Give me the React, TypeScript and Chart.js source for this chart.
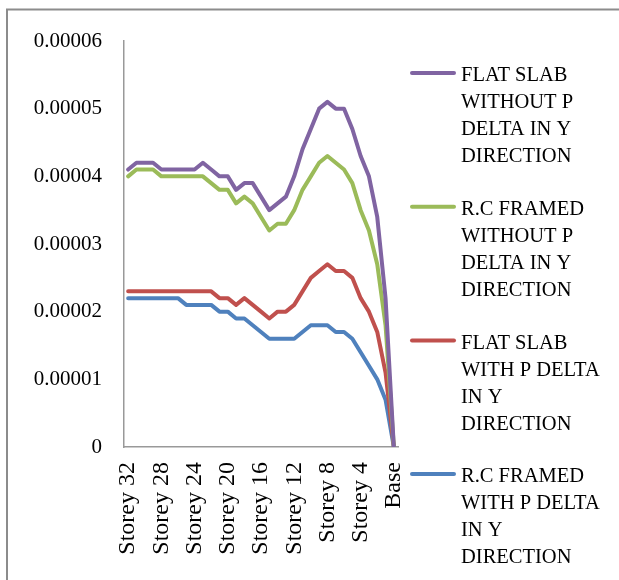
import { useEffect, useRef } from "react";
import { Chart, registerables } from "chart.js";

Chart.register(...registerables);

// Storey labels from top floor down to the base
const storeys = [
  "Storey 32", "Storey 31", "Storey 30", "Storey 29", "Storey 28", "Storey 27",
  "Storey 26", "Storey 25", "Storey 24", "Storey 23", "Storey 22", "Storey 21",
  "Storey 20", "Storey 19", "Storey 18", "Storey 17", "Storey 16", "Storey 15",
  "Storey 14", "Storey 13", "Storey 12", "Storey 11", "Storey 10", "Storey 9",
  "Storey 8", "Storey 7", "Storey 6", "Storey 5", "Storey 4", "Storey 3",
  "Storey 2", "Storey 1", "Base",
];

const flatSlabWithoutPDelta = [
  0.000041, 0.000042, 0.000042, 0.000042, 0.000041, 0.000041, 0.000041, 0.000041,
  0.000041, 0.000042, 0.000041, 0.00004, 0.00004, 0.000038, 0.000039, 0.000039,
  0.000037, 0.000035, 0.000036, 0.000037, 0.00004, 0.000044, 0.000047, 0.00005,
  0.000051, 0.00005, 0.00005, 0.000047, 0.000043, 0.00004, 0.000034, 0.000022, 0,
];

const rcFramedWithoutPDelta = [
  0.00004, 0.000041, 0.000041, 0.000041, 0.00004, 0.00004, 0.00004, 0.00004,
  0.00004, 0.00004, 0.000039, 0.000038, 0.000038, 0.000036, 0.000037, 0.000036,
  0.000034, 0.000032, 0.000033, 0.000033, 0.000035, 0.000038, 0.00004, 0.000042,
  0.000043, 0.000042, 0.000041, 0.000039, 0.000035, 0.000032, 0.000027, 0.000018, 0,
];

const flatSlabWithPDelta = [
  0.000023, 0.000023, 0.000023, 0.000023, 0.000023, 0.000023, 0.000023, 0.000023,
  0.000023, 0.000023, 0.000023, 0.000022, 0.000022, 0.000021, 0.000022, 0.000021,
  0.00002, 0.000019, 0.00002, 0.00002, 0.000021, 0.000023, 0.000025, 0.000026,
  0.000027, 0.000026, 0.000026, 0.000025, 0.000022, 0.00002, 0.000017, 0.000011, 0,
];

const rcFramedWithPDelta = [
  0.000022, 0.000022, 0.000022, 0.000022, 0.000022, 0.000022, 0.000022, 0.000021,
  0.000021, 0.000021, 0.000021, 0.00002, 0.00002, 0.000019, 0.000019, 0.000018,
  0.000017, 0.000016, 0.000016, 0.000016, 0.000016, 0.000017, 0.000018, 0.000018,
  0.000018, 0.000017, 0.000017, 0.000016, 0.000014, 0.000012, 0.00001, 0.000007, 0,
];

const seriesNames = [
  "FLAT SLAB WITHOUT P DELTA IN Y DIRECTION",
  "R.C FRAMED WITHOUT P DELTA IN Y DIRECTION",
  "FLAT SLAB WITH P DELTA IN Y DIRECTION",
  "R.C FRAMED WITH P DELTA IN Y DIRECTION",
];

// Wrapped legend text, one row per entry
const legendRows = [
  ["FLAT SLAB", "WITHOUT P", "DELTA IN Y", "DIRECTION"],
  ["R.C FRAMED", "WITHOUT P", "DELTA IN Y", "DIRECTION"],
  ["FLAT SLAB", "WITH P DELTA", "IN Y", "DIRECTION"],
  ["R.C FRAMED", "WITH P DELTA", "IN Y", "DIRECTION"],
];

const seriesColors = ["#8064A2", "#9BBB59", "#C0504D", "#4F81BD"];

const SERIF = "'Liberation Serif', 'DejaVu Serif', serif";

const sideLegend = {
  id: "sideLegend",
  afterDraw(chart: any) {
    const ctx = chart.ctx as CanvasRenderingContext2D;
    ctx.save();
    // outer frame (top and left edges)
    ctx.strokeStyle = "#8c8c8c";
    ctx.lineWidth = 2;
    ctx.beginPath();
    ctx.moveTo(7, 580);
    ctx.lineTo(7, 9.5);
    ctx.lineTo(619, 9.5);
    ctx.stroke();

    ctx.font = `20.5px ${SERIF}`;
    ctx.fillStyle = "#000";
    ctx.textBaseline = "middle";
    ctx.textAlign = "left";
    chart.data.datasets.forEach((ds: any, i: number) => {
      const top = 76 + i * 133.7;
      ctx.strokeStyle = ds.borderColor;
      ctx.lineWidth = 4;
      ctx.lineCap = "round";
      ctx.beginPath();
      ctx.moveTo(412, top - 3);
      ctx.lineTo(454, top - 3);
      ctx.stroke();
      legendRows[i].forEach((row, j) => {
        ctx.fillText(row, 461, top + j * 27);
      });
    });
    ctx.restore();
  },
};

export default function App() {
  const canvasRef = useRef<HTMLCanvasElement | null>(null);

  useEffect(() => {
    const canvas = canvasRef.current;
    if (!canvas) return;
    let chart: Chart | null = null;
    let cancelled = false;
    const values = [
      flatSlabWithoutPDelta,
      rcFramedWithoutPDelta,
      flatSlabWithPDelta,
      rcFramedWithPDelta,
    ];

    const build = () => {
      if (cancelled) return;
      chart = new Chart(canvas, {
        type: "line",
        data: {
          labels: storeys,
          datasets: values.map((data, i) => ({
            label: seriesNames[i],
            data,
            borderColor: seriesColors[i],
            backgroundColor: seriesColors[i],
            borderWidth: 4,
            pointRadius: 0,
            tension: 0,
            fill: false,
            borderCapStyle: "round",
            borderJoinStyle: "round",
          })),
        },
        options: {
          animation: false,
          responsive: false,
          devicePixelRatio: 1,
          layout: { padding: { left: 0, top: 41, right: 221, bottom: 0 } },
          plugins: {
            legend: { display: false },
            tooltip: { enabled: false },
          },
          scales: {
            x: {
              type: "category",
              offset: true,
              grid: { display: false, drawTicks: false },
              border: { display: true, color: "#999999", width: 1.5 },
              afterFit(scale: any) {
                scale.height = 133;
              },
              ticks: {
                autoSkip: false,
                minRotation: 90,
                maxRotation: 90,
                padding: 15,
                color: "#000",
                font: { family: SERIF, size: 24 },
                callback: (_v: any, index: number) =>
                  index % 4 === 0 ? storeys[index] : "",
              },
            },
            y: {
              min: 0,
              max: 0.00006,
              grid: { display: false, drawTicks: false },
              border: { display: true, color: "#999999", width: 1.5 },
              afterFit(scale: any) {
                scale.width = 124;
              },
              ticks: {
                stepSize: 0.00001,
                padding: 22,
                color: "#000",
                font: { family: SERIF, size: 21 },
                callback: (v: any) => (Number(v) === 0 ? "0" : Number(v).toFixed(5)),
              },
            },
          },
        },
        plugins: [sideLegend],
      });
    };

    const fonts = (document as any).fonts;
    if (fonts && fonts.load) {
      Promise.all([
        fonts.load("20px 'Liberation Serif'"),
        fonts.load("24px 'Liberation Serif'"),
      ]).then(build, build);
    } else {
      build();
    }

    return () => {
      cancelled = true;
      if (chart) chart.destroy();
    };
  }, []);

  return (
    <div style={{ position: "absolute", left: 0, top: 0, width: 619, height: 580, background: "#fff" }}>
      <canvas ref={canvasRef} width={619} height={580} style={{ width: 619, height: 580, display: "block" }} />
    </div>
  );
}
